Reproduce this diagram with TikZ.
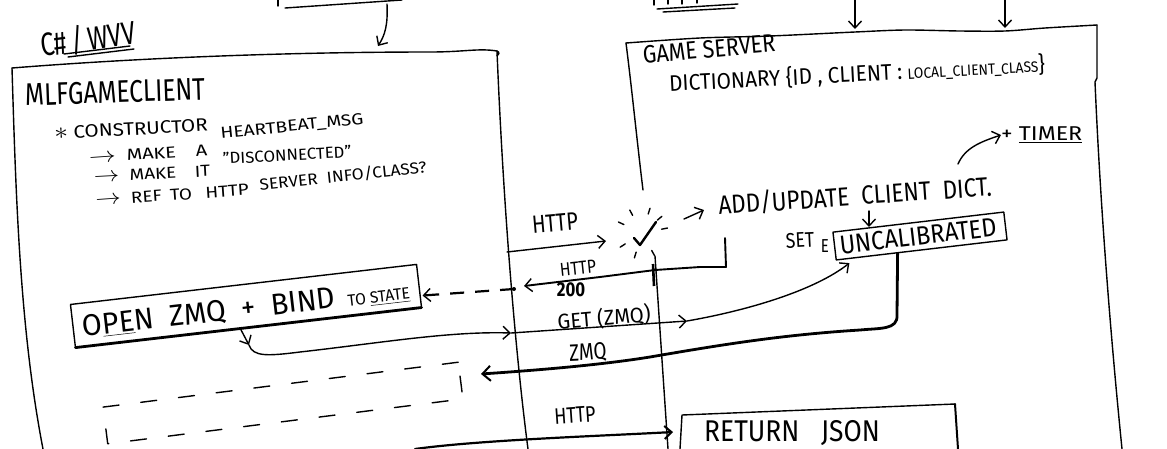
\documentclass[tikz,border=0pt]{standalone}
\usepackage{fontspec}
\setmainfont{Fira Sans}
\usetikzlibrary{arrows.meta,calc}
\newcommand\tallt[2][1]{\scalebox{#1}[1.25]{#2}}
\newcommand\lowt[2][1]{\scalebox{#1}[1.0]{#2}}
\newcommand\harr{\scalebox{1.25}{$\rightarrow$}}
\begin{document}
\begin{tikzpicture}[x=1pt,y=-1pt,
  ln/.style={line width=1.4pt, line cap=round, line join=round},
  thk/.style={line width=2.8pt, line cap=round, line join=round},
  barb/.style={-{Straight Barb[length=7pt,width=13pt,line width=1.4pt]}},
  t/.style={inner sep=0pt, font=\fontsize{#1}{#1}\selectfont},
]
\useasboundingbox[fill=white] (0,0) rectangle (1167,448);

% ---------- fragments at the top edge ----------
\coordinate (tlA) at (278,0);
\coordinate (tlB) at (278,6);
\draw[ln] (tlA) -- (tlB);
\coordinate (tlC) at (285,8);
\coordinate (tlD) at (402,0);
\draw[ln] (tlC) -- (tlD);
\foreach \x/\h in {654/5,668/4,682/4,697/3} \draw[ln] (\x,0) -- (\x,\h);
\coordinate (tmA) at (657,9);  \coordinate (tmB) at (738,4);
\coordinate (tmC) at (663,12); \coordinate (tmD) at (735,8);
\draw[ln] (tmA) -- (tmB);
\draw[ln] (tmC) -- (tmD);

% ---------- left box (C# / WVV) ----------
\node[t=26, rotate=8] (lang) at (88,39) {\tallt[0.95]{C\#\,/\,WVV}};
\coordinate (ulA) at (64,54);  \coordinate (ulB) at (130,46);
\coordinate (ulC) at (68,57);  \coordinate (ulD) at (134,49);
\draw[ln] (ulA) -- (ulB);
\draw[ln] (ulC) -- (ulD);

\coordinate (LBtl) at (12,68);
\coordinate (LBtr) at (497,51);
\coordinate (LBbr) at (528,449);
\coordinate (LBbl) at (43,449);
\draw[ln] (LBtl) .. controls (150,57) and (300,52) .. (430,52)
          .. controls (465,52) and (478,48) .. (LBtr)
          .. controls (500,52) and (499,55) .. (497,56);
\draw[ln] (LBtr) .. controls (503,200) and (515,350) .. (LBbr);
\draw[ln] (LBtl) .. controls (16,200) and (20,330) .. (LBbl);

\coordinate (topArrS) at (387,4);
\coordinate (topArrE) at (378,46);
\draw[ln,barb] (topArrS) .. controls (388,25) and (385,35) .. (topArrE);

\node[t=25, rotate=2] (cls) at (115,92) {\tallt[0.98]{MLFGAMECLIENT}};
\node[t=18, rotate=3] (ctor) at (131,129) {\lowt[1.14]{\scalebox{1.4}{$\ast$} CONSTRUCTOR}};
\node[t=16, rotate=4] (mk1a) at (148,154) {\lowt[1.25]{\harr\; MAKE\;\;\, A}};
\node[t=16, rotate=6] (mk1b) at (292,127) {\lowt[1.2]{HEARTBEAT\_MSG}};
\node[t=16, rotate=3] (mk2a) at (152,174) {\lowt[1.18]{\harr\; MAKE\;\;\, IT}};
\node[t=16, rotate=3] (mk2b) at (287,155) {\lowt[1.05]{"DISCONNECTED"}};
\node[t=16, rotate=4] (mk3a) at (172,195) {\lowt[1.18]{\harr\; REF\, TO\;\, HTTP}};
\node[t=16, rotate=6] (mk3b) at (343,176) {\lowt[1.08]{SERVER\; INFO/CLASS?}};

% OPEN ZMQ box
\node[inner sep=0pt, rotate=6.6, minimum width=348pt, minimum height=43pt] (openbox) at (246,306) {};
\draw[ln] (openbox.south west) -- (openbox.north west) -- (openbox.north east) -- (openbox.south east);
\draw[thk] (openbox.south west) -- (openbox.south east);
\node[t=24, rotate=6.6] (opentxt) at (246,309)
  {\tallt[1.2]{O\underline{PE}N\; ZMQ\; +\; BIND\, {\fontsize{13}{13}\selectfont TO \underline{STATE}}}};

% dashed box
\node[ln, draw, dash pattern=on 16pt off 22pt, rotate=7.2, minimum width=358pt, minimum height=37pt, inner sep=0pt] (dbox) at (283,403) {};

% ---------- game server box ----------
\coordinate (GStl) at (626,43);
\coordinate (GStr) at (1097,25);
\coordinate (GSlb) at (643,190);
\coordinate (GSrb) at (1122,449);
\draw[ln] plot[smooth] coordinates {(GStl) (700,38) (770,36) (855,32) (905,30) (960,31) (1005,31) (1045,28) (GStr)};
\draw[ln] (GStl) .. controls (632,90) and (638,150) .. (GSlb);
\draw[ln] (GStr) -- (1097,78) -- (1095,82) .. controls (1100,200) and (1110,330) .. (GSrb);

\coordinate (gsA1) at (855,0); \coordinate (gsA2) at (855,29);
\coordinate (gsB1) at (1005,0); \coordinate (gsB2) at (1005,28);
\draw[ln,barb] (gsA1) -- (gsA2);
\draw[ln,barb] (gsB1) -- (gsB2);

\node[t=20, rotate=5] (gs) at (709,49) {\tallt[1.08]{GAME SERVER}};
\node[t=18, rotate=3, anchor=west] (dict) at (669,84)
  {\tallt[1.15]{DICTIONARY \{ID , CLIENT : {\fontsize{12}{12}\selectfont LOCAL\_CLIENT\_CLASS}\}}};

\node[t=16, anchor=west] (timer) at (1001,135) {\tallt[1.45]{+ \underline{TIMER}}};
\coordinate (tmS) at (958,164);
\draw[ln,barb] (tmS) .. controls (965,148) and (980,142) .. (timer.west);

\node[t=21, rotate=4] (add) at (855,196) {\tallt[1.07]{ADD/UPDATE\; CLIENT\; DICT.}};

% checkmark (heartbeat)
\node[inner sep=0pt, minimum size=30pt] (check) at (642,233) {};
\draw[ln, line width=2.4pt] ($(check)+(-8,5)$) -- ($(check)+(-2,12)$) -- ($(check)+(14,-11)$);
\foreach \a in {205,242,288,320,349,147,107,61}
  \draw[ln] ($(check)+(\a:20)$) -- ($(check)+(\a:26)$);

% lifeline
\coordinate (lifeT) at (655,256);
\coordinate (lifeB) at (668,449);
\draw[ln] (lifeT) -- (lifeB);
\draw[line width=2.6pt] (653,264) -- (654,286);

% HTTP in
\coordinate (hin) at (507,252);
\coordinate (hinE) at (606,241);
\draw[ln,barb] (hin) -- (hinE);
\node[t=20, rotate=5] (http1) at (555,223) {\tallt{HTTP}};

% check -> add
\coordinate (caS) at (684,219);
\coordinate (caE) at (704,210);
\draw[ln,barb] (caS) -- (caE);

% HTTP 200 return
\coordinate (r1) at (725,238);
\coordinate (r2) at (726,267);
\coordinate (r3) at (524,286);
\draw[ln, line width=1.9pt, barb] (r1) -- (r2) -- (700,267) -- (655,270) -- (600,277) -- (r3);
\node[t=15, rotate=6] (http2) at (578,268) {\tallt[1.05]{HTTP}};
\node[t=16, font=\fontsize{16}{16}\selectfont\bfseries] (s200) at (571,290) {\tallt[1.05]{200}};

% dashed return to OPEN box
\coordinate (dS) at (514,289);
\fill (dS) circle (2pt);
\draw[line width=2.2pt, dash pattern=on 14pt off 11pt, -{Straight Barb[length=7pt,width=13pt,line width=1.4pt]}]
  (dS) -- ($(openbox.south east)+(1,-12)$);

% OPEN -> GET (ZMQ) -> UNCALIBRATED
\coordinate (g0) at (240,328);
\coordinate (g1) at (249,345);
\coordinate (g2) at (511,333);
\coordinate (g3) at (687,321);
\draw[ln,barb] (g0) -- (g1);
\draw[ln,barb] (g1) .. controls (253,357) and (268,356) .. (300,352) .. controls (380,343) and (450,331) .. (g2);
\draw[ln,barb] (g2) -- (g3);
\node[t=17, rotate=5] (get) at (604,318) {\tallt[1.2]{GET (ZMQ)}};

% UNCALIBRATED
\node[ln, draw, rotate=6.7, minimum width=172pt, minimum height=28pt, inner sep=0pt] (uncal) at (920,236) {};
\node[t=21, rotate=6.7] (uncaltxt) at (918,236) {\tallt[1.12]{UNCALIBRATED}};
\node[t=17, rotate=3] (set) at (800,240) {\tallt[1.05]{SET}};
\node[t=15] (eltr) at (825,246) {\tallt{E}};
\draw[ln,barb] (g3) .. controls (750,310) and (815,290) .. ($(uncal.south west)!0.08!(uncal.south east)+(0,4)$);
\coordinate (cl1) at (869,211);
\coordinate (cl2) at (869,227);
\draw[ln,barb] (cl1) -- (cl2);

% ZMQ thick return
\coordinate (z0) at ($(uncal.south west)!0.36!(uncal.south east)$);
\coordinate (z1) at (481,374);
\draw[thk, -{Straight Barb[length=8pt,width=15pt,line width=2pt]}]
  (z0) -- (897,315) .. controls (898,330) and (880,328) .. (860,330)
  .. controls (780,335) and (720,345) .. (650,357)
  .. controls (600,365) and (540,370) .. (z1);
\node[t=19, rotate=3] (zmq) at (588,353) {\tallt{ZMQ}};

% RETURN JSON
\coordinate (RJbl) at (680,449);
\coordinate (RJtl) at (682,415);
\coordinate (RJtr) at (955,404);
\coordinate (RJbr) at (958,449);
\draw[ln] (RJbl) -- (RJtl) -- (RJtr);
\draw[ln, line width=2pt] (RJtr) -- (RJbr);
\node[t=24] (ret) at (792,433) {\tallt[1.1]{RETURN\;\; JSON}};

% bottom HTTP
\coordinate (hb0) at (415,449);
\coordinate (hb1) at (673,432);
\draw[thk, line width=2.2pt, -{Straight Barb[length=7pt,width=13pt,line width=2pt]}]
  (hb0) .. controls (480,440) and (600,436) .. (hb1);
\node[t=18, rotate=4] (http3) at (575,415) {\tallt{HTTP}};
\end{tikzpicture}
\end{document}
